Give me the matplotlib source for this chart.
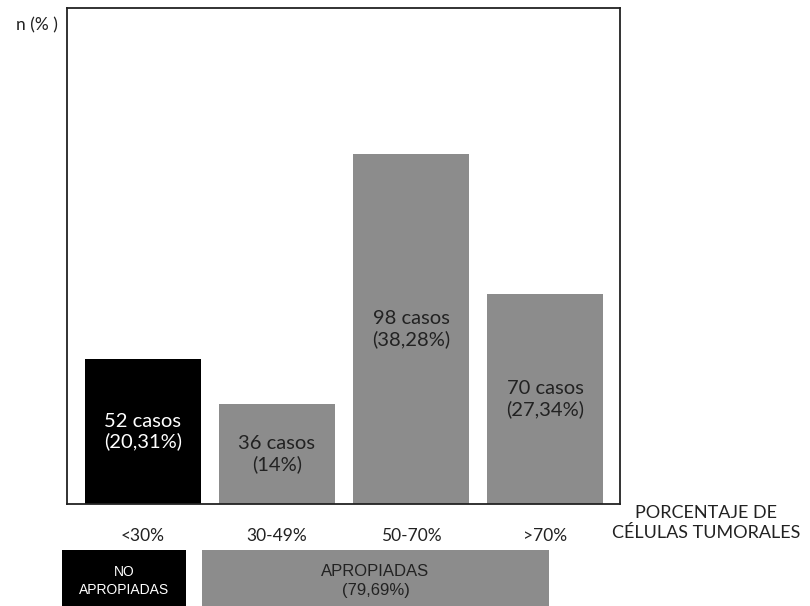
import matplotlib
matplotlib.use("Agg")
import matplotlib.pyplot as plt
from matplotlib.patches import Rectangle

categories = ["<30%", "30-49%", "50-70%", ">70%"]
cases = [52, 36, 98, 70]
percents = ["20,31%", "14%", "38,28%", "27,34%"]
bar_heights = [52, 36, 125.5, 75.3]  # drawn heights
bar_colors = ["#000000", "#8c8c8c", "#8c8c8c", "#8c8c8c"]
text_colors = ["white", "#222222", "#222222", "#222222"]
group_labels = ["NO\nAPROPIADAS", "APROPIADAS\n(79,69%)"]

W, H = 810, 606
fig = plt.figure(figsize=(W / 100, H / 100), dpi=100)
ax = fig.add_axes([67 / W, (H - 504) / H, 553 / W, 496 / H])

font = ["Lato", "DejaVu Sans"]
x = list(range(len(categories)))
ax.bar(x, bar_heights, width=0.866, color=bar_colors)
for xi, h, c, p, tc in zip(x, bar_heights, cases, percents, text_colors):
    ax.text(xi, h / 2, f"{c} casos\n({p})", ha="center", va="center",
            color=tc, fontsize=14.5, family=font, linespacing=1.2)

ax.set_xlim(-0.567, 3.56)
ax.set_ylim(0, 177.8)
ax.set_xticks(x)
ax.set_xticklabels(categories, family=font, fontsize=12.5, color="#222222")
ax.tick_params(axis="x", length=0, pad=17)
ax.set_yticks([])
for s in ax.spines.values():
    s.set_color("#222222")
    s.set_linewidth(1.3)

fig.text(58 / W, 1 - 25 / H, "n (% )", ha="right", va="center",
         family=font, fontsize=12.5, color="#222222")
fig.text(706 / W, 1 - 523 / H, "PORCENTAJE DE\nCÉLULAS TUMORALES", ha="center",
         va="center", family=font, fontsize=13, color="#222222",
         linespacing=1.25)

# group boxes under the axis (figure pixel coordinates)
boxes = [(62, 186, "#000000", "white", 10, 1.35),
         (202, 549, "#8c8c8c", "#222222", 12, 1.3)]
for (x0, x1, fc, tc, fs, ls), lab in zip(boxes, group_labels):
    fig.add_artist(Rectangle((x0 / W, 0), (x1 - x0) / W, (606 - 550) / H,
                             transform=fig.transFigure, facecolor=fc,
                             edgecolor="none"))
    fig.text((x0 + x1) / 2 / W, 1 - 581 / H, lab, ha="center", va="center",
             color=tc, family="Liberation Sans", fontsize=fs, linespacing=ls)

fig.savefig("out.png", dpi=100)
